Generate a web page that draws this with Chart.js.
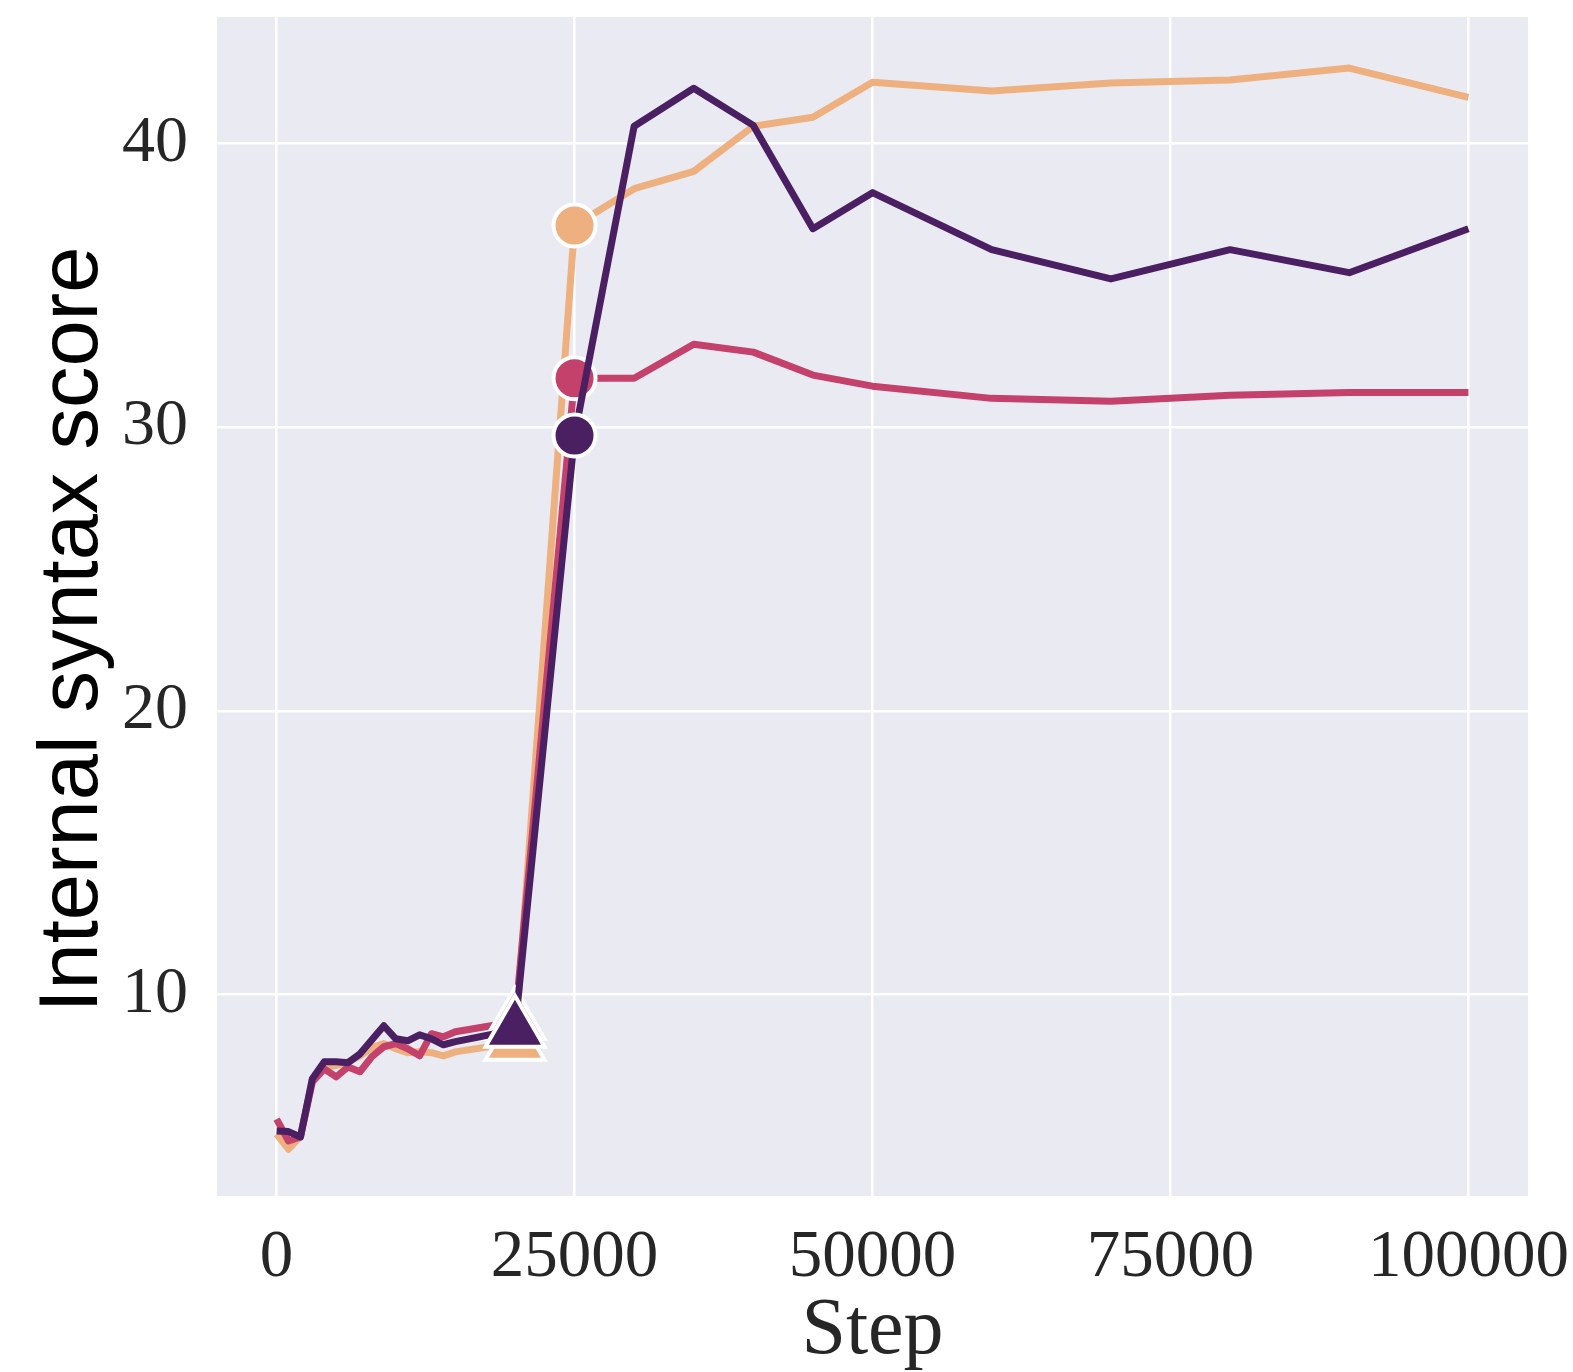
<!DOCTYPE html>
<html>
<head>
<meta charset="utf-8">
<script src="https://cdn.jsdelivr.net/npm/chart.js@4.4.0/dist/chart.umd.min.js"></script>
<style>
  html, body { margin: 0; padding: 0; background: #ffffff; }
  #contenedor { width: 1573px; height: 1372px; }
</style>
</head>
<body>
<div id="contenedor"><canvas id="graficoSintaxis"></canvas></div>
<script>
// pasos de entrenamiento
const pasos = [0, 1000, 2000, 3000, 4000, 5000, 6000, 7000, 8000, 9000, 10000, 11000, 12000, 13000, 14000, 15000, 20000,
               25000, 30000, 35000, 40000, 45000, 50000, 60000, 70000, 80000, 90000, 100000];

const serieOscura = [5.19, 5.17, 4.98, 7.03, 7.63, 7.63, 7.60, 7.91, 8.41, 8.90, 8.44, 8.37, 8.58, 8.44, 8.23, 8.34, 8.76,
                     29.70, 40.60, 41.94, 40.63, 36.99, 38.26, 36.25, 35.22, 36.25, 35.44, 36.99];
const serieRosa = [5.61, 4.84, 4.98, 6.92, 7.38, 7.10, 7.45, 7.28, 7.81, 8.16, 8.27, 8.09, 7.84, 8.62, 8.51, 8.69, 9.04,
                   31.72, 31.72, 32.92, 32.64, 31.83, 31.44, 31.01, 30.91, 31.12, 31.22, 31.22];
const serieNaranja = [5.08, 4.55, 5.00, 7.00, 7.45, 7.50, 7.63, 7.84, 8.13, 8.27, 8.09, 7.95, 7.98, 7.95, 7.84, 7.98, 8.30,
                      37.10, 38.40, 39.01, 40.60, 40.92, 42.15, 41.84, 42.12, 42.23, 42.65, 41.62];

const ticksX = [0, 25000, 50000, 75000, 100000];
const ticksY = [10, 20, 30, 40];

// pasos donde se marcan los puntos
const pasoTriangulo = 20000;
const pasoCirculo = 25000;

function armarSerie(valores, color) {
    return {
        data: pasos.map((p, i) => ({ x: p, y: valores[i] })),
        borderColor: color,
        backgroundColor: color,
        borderWidth: 7,
        borderJoinStyle: "round",
        tension: 0,
        pointStyle: ctx => (pasos[ctx.dataIndex] === pasoTriangulo ? "triangle" : "circle"),
        pointRadius: ctx => {
            const p = pasos[ctx.dataIndex];
            if (p === pasoTriangulo) return 34;
            if (p === pasoCirculo) return 21;
            return 0;
        },
        pointBorderColor: "#ffffff",
        pointBorderWidth: 4,
        pointBackgroundColor: color
    };
}

// fondo gris de seaborn
const fondoArea = {
    id: "fondoArea",
    beforeDraw(chart) {
        const { ctx, chartArea } = chart;
        ctx.save();
        ctx.fillStyle = "#eaeaf2";
        ctx.fillRect(chartArea.left, chartArea.top, chartArea.right - chartArea.left, chartArea.bottom - chartArea.top);
        ctx.restore();
    }
};

new Chart(document.getElementById("graficoSintaxis"), {
    type: "line",
    data: {
        datasets: [
            armarSerie(serieOscura, "#4b2063"),
            armarSerie(serieRosa, "#c3416a"),
            armarSerie(serieNaranja, "#eeb07f")
        ]
    },
    options: {
        responsive: true,
        maintainAspectRatio: false,
        animation: false,
        events: [],
        layout: { padding: { top: 17, right: 45, bottom: 0, left: 0 } },
        plugins: { legend: { display: false }, tooltip: { enabled: false } },
        scales: {
            x: {
                type: "linear",
                min: -5000,
                max: 105000,
                afterBuildTicks: s => { s.ticks = ticksX.map(v => ({ value: v })); },
                afterFit: s => { s.height = 176; s.paddingLeft = 0; s.paddingRight = 0; },
                border: { display: false },
                grid: { color: "#ffffff", lineWidth: 2.5, drawTicks: false },
                ticks: {
                    color: "#262626",
                    padding: 22,
                    maxRotation: 0,
                    font: { family: "'Liberation Serif', serif", size: 67 },
                    callback: v => String(v)
                },
                title: {
                    display: true,
                    text: "Step",
                    color: "#262626",
                    font: { family: "'Liberation Serif', serif", size: 80, lineHeight: 1.0 },
                    padding: { top: 0, bottom: 0 }
                }
            },
            y: {
                type: "linear",
                min: 2.9,
                max: 44.45,
                afterBuildTicks: s => { s.ticks = ticksY.map(v => ({ value: v })); },
                afterFit: s => { s.width = 217; s.paddingTop = 0; s.paddingBottom = 0; },
                border: { display: false },
                grid: { color: "#ffffff", lineWidth: 2.5, drawTicks: false },
                ticks: {
                    color: "#262626",
                    padding: 29,
                    font: { family: "'Liberation Serif', serif", size: 66 },
                    callback: v => String(v)
                },
                title: {
                    display: true,
                    text: "Internal syntax score  ",
                    color: "#000000",
                    font: { family: "'Liberation Sans', Arial, sans-serif", size: 83, lineHeight: 1.2 },
                    padding: { top: 24, bottom: 0 }
                }
            }
        }
    },
    plugins: [fondoArea]
});
</script>
</body>
</html>
